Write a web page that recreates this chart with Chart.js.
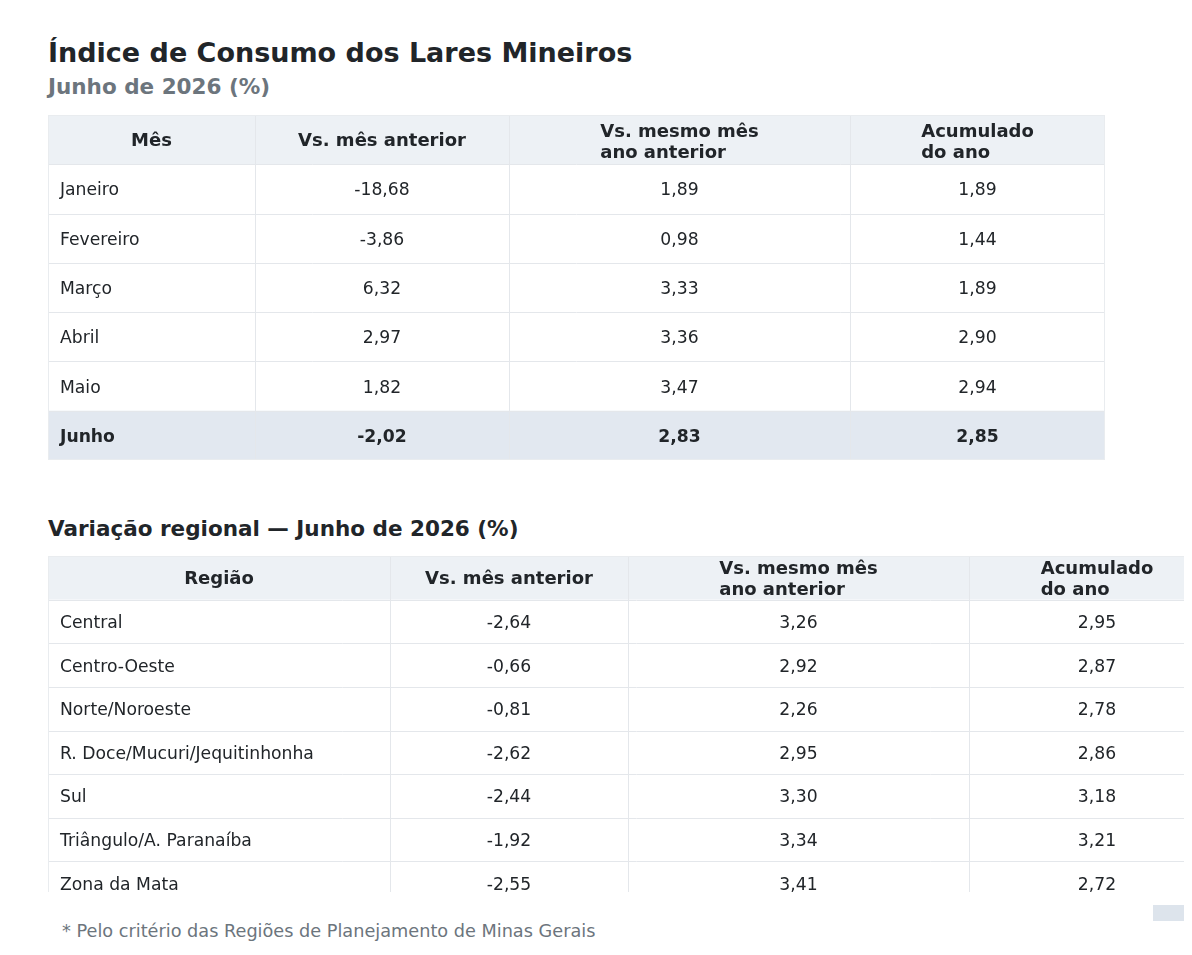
<!DOCTYPE html>
<html lang="pt-BR">
<head>
<meta charset="utf-8">
<script src="https://cdn.jsdelivr.net/npm/chart.js@4.4.1/dist/chart.umd.min.js"></script>
<style>
  html, body { margin: 0; padding: 0; background: #ffffff; }
  body { width: 1192px; height: 955px; position: relative; overflow: hidden; font-family: "DejaVu Sans", sans-serif; color: #212529; }
  .abs { position: absolute; white-space: nowrap; }
  #title { left: 48px; top: 37px; font-size: 27px; line-height: 32px; font-weight: bold; color: #212529; }
  #subtitle { left: 48px; top: 75px; font-size: 21.5px; line-height: 24px; font-weight: bold; color: #6c757d; }
  #section { left: 48px; top: 517px; font-size: 21.5px; line-height: 24px; font-weight: bold; color: #212529; }
  #t1wrap { left: 48px; top: 115px; width: 1057px; height: 345px; }
  #t2wrap { left: 48px; top: 556px; width: 1136px; height: 336px; overflow: hidden; }
  #thumb { left: 1153px; top: 905px; width: 31px; height: 16px; background: #dde4ec; }
  #note { left: 62px; top: 921px; font-size: 17.7px; line-height: 20px; color: #6c757d; }
</style>
</head>
<body>
<div id="title" class="abs">Índice de Consumo dos Lares Mineiros</div>
<div id="subtitle" class="abs">Junho de 2026 (%)</div>
<div id="t1wrap" class="abs"><canvas id="t1"></canvas></div>
<div id="section" class="abs">Variação regional — Junho de 2026 (%)</div>
<div id="t2wrap" class="abs"><canvas id="t2"></canvas></div>
<div id="thumb" class="abs"></div>
<div id="note" class="abs">* Pelo critério das Regiões de Planejamento de Minas Gerais</div>
<script>
// ---------- DATA ----------
const headers1 = ['Mês', 'Vs. mês anterior', ['Vs. mesmo mês', 'ano anterior'], ['Acumulado', 'do ano']];
const months = ['Janeiro', 'Fevereiro', 'Março', 'Abril', 'Maio', 'Junho'];
const vsMesAnterior = [-18.68, -3.86, 6.32, 2.97, 1.82, -2.02];
const vsAnoAnterior = [1.89, 0.98, 3.33, 3.36, 3.47, 2.83];
const acumuladoAno = [1.89, 1.44, 1.89, 2.90, 2.94, 2.85];

const headers2 = ['Região', 'Vs. mês anterior', ['Vs. mesmo mês', 'ano anterior'], ['Acumulado', 'do ano']];
const regioes = ['Central', 'Centro-Oeste', 'Norte/Noroeste', 'R. Doce/Mucuri/Jequitinhonha', 'Sul', 'Triângulo/A. Paranaíba', 'Zona da Mata'];
const regVsMesAnterior = [-2.64, -0.66, -0.81, -2.62, -2.44, -1.92, -2.55];
const regVsAnoAnterior = [3.26, 2.92, 2.26, 2.95, 3.30, 3.34, 3.41];
const regAcumuladoAno = [2.95, 2.87, 2.78, 2.86, 3.18, 3.21, 2.72];

// ---------- STYLE ----------
const FONT = '"DejaVu Sans", sans-serif';
const BODY_SIZE = 17.2;
const HEAD_SIZE = 18;
const fmt = v => v.toFixed(2).replace('.', ',');

function tableChart(canvasId, width, height, colEdges, headers, labels, columns, highlightIdx, headerOffsets) {
  const canvas = document.getElementById(canvasId);
  canvas.width = width;
  canvas.height = height;
  canvas.style.width = width + 'px';
  canvas.style.height = height + 'px';
  const yLabels = ['__header'].concat(labels);

  const tablePlugin = {
    id: 'tableDraw',
    afterDraw(chart) {
      const ctx = chart.ctx;
      const xs = chart.scales.x, ys = chart.scales.y;
      const n = yLabels.length;
      const band = (ys.bottom - ys.top) / n;
      const edges = colEdges.map(e => xs.getPixelForValue(e));
      ctx.save();
      for (let r = 0; r < n; r++) {
        const cy = ys.getPixelForValue(r);
        const top = cy - band / 2;
        let bg = null;
        if (r === 0) bg = '#edf1f5';
        else if (r - 1 === highlightIdx) bg = '#e2e8f0';
        if (bg) {
          ctx.fillStyle = bg;
          ctx.fillRect(edges[0], top, edges[edges.length - 1] - edges[0], band);
        }
      }
      ctx.strokeStyle = '#e4e7eb';
      ctx.lineWidth = 1;
      for (let r = 1; r < n; r++) {
        const y = Math.round(ys.getPixelForValue(r) - band / 2) + 0.5;
        ctx.beginPath(); ctx.moveTo(edges[0], y); ctx.lineTo(edges[edges.length - 1], y); ctx.stroke();
      }
      for (let c = 1; c < edges.length - 1; c++) {
        const x = Math.round(edges[c]) + 0.5;
        ctx.beginPath(); ctx.moveTo(x, ys.top); ctx.lineTo(x, ys.bottom); ctx.stroke();
      }
      ctx.strokeStyle = '#e9ecef';
      ctx.strokeRect(edges[0] + 0.5, ys.top + 0.5, edges[edges.length - 1] - edges[0] - 1, ys.bottom - ys.top - 1);
      ctx.fillStyle = '#212529';
      ctx.textBaseline = 'middle';
      ctx.font = 'bold ' + HEAD_SIZE + 'px ' + FONT;
      const hy = ys.getPixelForValue(0);
      headers.forEach((h, c) => {
        const cx = (edges[c] + edges[c + 1]) / 2;
        if (Array.isArray(h)) {
          const w = Math.max(...h.map(s => ctx.measureText(s).width));
          ctx.textAlign = 'left';
          h.forEach((s, i) => ctx.fillText(s, cx - w / 2, hy + headerOffsets[i]));
        } else {
          ctx.textAlign = 'center';
          ctx.fillText(h, cx, hy + 2);
        }
      });
      labels.forEach((lab, i) => {
        const cy = ys.getPixelForValue(i + 1) + 2;
        ctx.font = (i === highlightIdx ? 'bold ' : '') + BODY_SIZE + 'px ' + FONT;
        ctx.fillStyle = '#212529';
        ctx.textAlign = 'left';
        ctx.fillText(lab, edges[0] + 12, cy);
        ctx.textAlign = 'center';
        columns.forEach((col, c) => {
          const cx = (edges[c + 1] + edges[c + 2]) / 2;
          ctx.fillText(fmt(col[i]), cx, cy);
        });
      });
      ctx.restore();
    }
  };

  return new Chart(canvas, {
    type: 'scatter',
    data: { datasets: [] },
    options: {
      responsive: false,
      animation: false,
      layout: { padding: 0 },
      plugins: { legend: { display: false }, tooltip: { enabled: false } },
      scales: {
        x: { type: 'linear', min: 0, max: width, display: false },
        y: { type: 'category', labels: yLabels, offset: true, display: false }
      }
    },
    plugins: [tablePlugin]
  });
}

tableChart('t1', 1057, 345, [0, 207, 461, 802, 1057], headers1, months,
  [vsMesAnterior, vsAnoAnterior, acumuladoAno], months.length - 1, [-7, 14]);
tableChart('t2', 1177, 349, [0, 342, 580, 921, 1177], headers2, regioes,
  [regVsMesAnterior, regVsAnoAnterior, regAcumuladoAno], -1, [-8, 13]);
</script>
</body>
</html>
